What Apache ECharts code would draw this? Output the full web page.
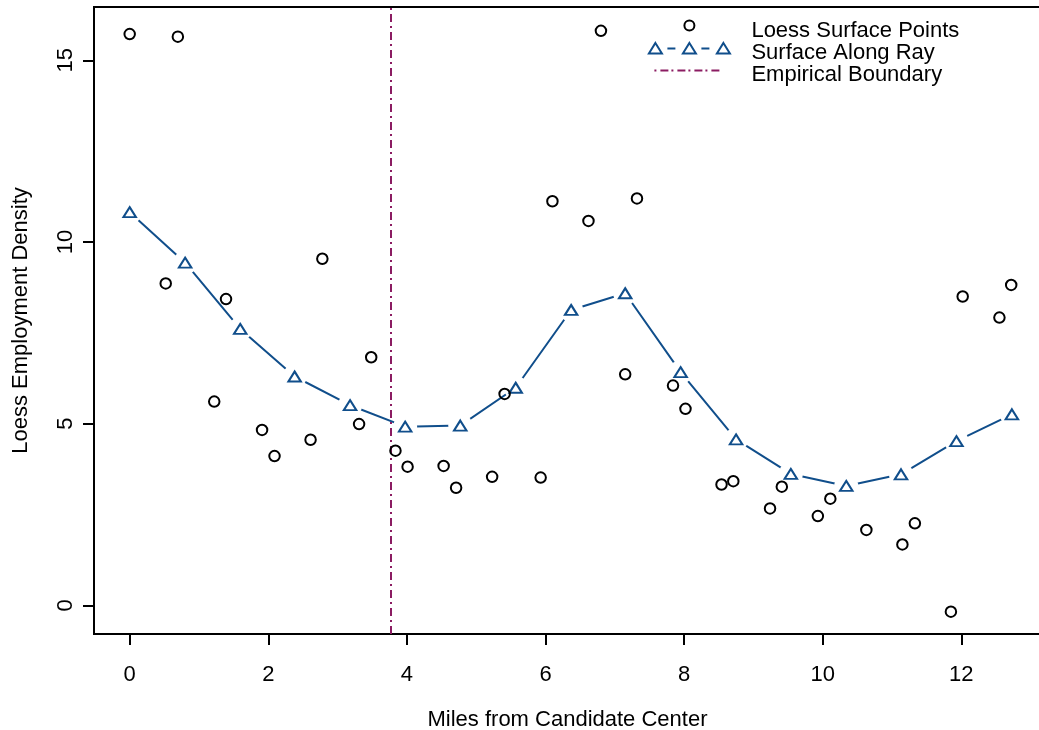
<!DOCTYPE html>
<html>
<head>
<meta charset="utf-8">
<script src="https://cdn.jsdelivr.net/npm/echarts@6/dist/echarts.min.js"></script>
<style>
  html, body { margin: 0; padding: 0; background: #fff; }
  #chart { width: 1039px; height: 730px; }
</style>
</head>
<body>
<div id="chart"></div>
<script>
// ---- Data ----
const pointsX = [0.00, 0.52, 0.695, 1.22, 1.39, 1.91, 2.09, 2.61, 2.78, 3.31, 3.485, 3.835, 4.01, 4.53, 4.71, 5.23, 5.41, 5.93, 6.10, 6.62, 6.80, 7.15, 7.32, 7.84, 8.02, 8.54, 8.71, 9.24, 9.41, 9.93, 10.11, 10.63, 11.15, 11.33, 11.85, 12.02, 12.55, 12.72];
const pointsY = [15.72, 8.86, 15.65, 5.61, 8.43, 4.83, 4.11, 4.56, 9.54, 4.99, 6.83, 4.26, 3.82, 3.84, 3.24, 3.54, 5.82, 3.52, 11.12, 10.58, 15.81, 6.36, 11.20, 6.05, 5.41, 3.33, 3.42, 2.67, 3.27, 2.46, 2.94, 2.08, 1.68, 2.26, -0.17, 8.50, 7.92, 8.82];

const rayX = [0.00, 0.80, 1.595, 2.38, 3.18, 3.975, 4.77, 5.57, 6.37, 7.15, 7.95, 8.75, 9.54, 10.34, 11.13, 11.93, 12.73];
const rayY = [10.82, 9.43, 7.61, 6.30, 5.51, 4.92, 4.95, 5.99, 8.13, 8.59, 6.42, 4.57, 3.62, 3.29, 3.61, 4.52, 5.26];

const boundaryX = [3.77];

const xTicks = [0, 2, 4, 6, 8, 10, 12];
const yTicks = [0, 5, 10, 15];

const seriesNames = ['Loess Surface Points', 'Surface Along Ray', 'Empirical Boundary'];
const xTitle = 'Miles from Candidate Center';
const yTitle = 'Loess Employment Density';

// ---- Build ----
const pts = pointsX.map((x, i) => [x, pointsY[i]]);
const ray = rayX.map((x, i) => [x, rayY[i]]);

const BLUE = '#104E8B';
const MAROON = '#8B1C62';
const FONT = "'Liberation Sans', Arial, Helvetica, sans-serif";
const FS = 22;

const anchor = 'M0 -6M98 14.6';
const iconCircle = 'path://' + anchor + 'M46 -1A5 5 0 1 1 36 -1A5 5 0 1 1 46 -1Z';
const iconRay = 'path://' + anchor +
  'M7 -5.5L13.5 5L0.5 5Z' +
  'M41 -5.5L47.5 5L34.5 5Z' +
  'M75 -5.5L81.5 5L68.5 5Z' +
  'M19 0L27 0M53 0L61 0';
const iconBoundary = 'path://' + anchor +
  'M6 0L8 0M12 0L20 0M23 0L25 0M29 0L37 0M40 0L42 0M46 0L54 0M57 0L59 0M63 0L71 0';

const chart = echarts.init(document.getElementById('chart'), null, { renderer: 'canvas' });

chart.setOption({
  animation: false,
  backgroundColor: '#fff',
  textStyle: { fontFamily: FONT, color: '#000' },
  grid: {
    left: 94, top: 7, right: -2, bottom: 96,
    show: true, borderColor: '#000', borderWidth: 2, backgroundColor: 'transparent',
    containLabel: false, outerBoundsMode: 'none'
  },
  legend: {
    orient: 'vertical',
    left: 645.9, top: 18,
    padding: 0,
    itemGap: -3.65,
    itemWidth: 98, itemHeight: 20.6,
    selectedMode: false,
    textStyle: { fontFamily: FONT, fontSize: FS, color: '#000', lineHeight: 22.35 },
    data: [
      { name: seriesNames[0], icon: iconCircle, itemStyle: { color: 'none', borderColor: '#000', borderWidth: 2, opacity: 1 } },
      { name: seriesNames[1], icon: iconRay, itemStyle: { color: 'none', borderColor: BLUE, borderWidth: 2, opacity: 1 } },
      { name: seriesNames[2], icon: iconBoundary, itemStyle: { color: 'none', borderColor: MAROON, borderWidth: 2, opacity: 1 } }
    ]
  },
  xAxis: {
    type: 'value',
    min: -0.515, max: 13.15,
    name: xTitle,
    nameLocation: 'middle',
    nameGap: 75,
    nameTextStyle: { fontFamily: FONT, fontSize: FS, color: '#000' },
    axisLine: { show: false, onZero: false },
    axisTick: { show: true, customValues: xTicks, length: 11, lineStyle: { color: '#000', width: 2 } },
    axisLabel: { show: true, customValues: xTicks, fontFamily: FONT, fontSize: FS, color: '#000', margin: 30 },
    splitLine: { show: false }
  },
  yAxis: {
    type: 'value',
    min: -0.784, max: 16.465,
    name: yTitle,
    nameLocation: 'middle',
    nameGap: 62,
    nameRotate: 90,
    nameTextStyle: { fontFamily: FONT, fontSize: FS, color: '#000' },
    axisLine: { show: false, onZero: false },
    axisTick: { show: true, customValues: yTicks, length: 11, lineStyle: { color: '#000', width: 2 } },
    axisLabel: { show: true, customValues: yTicks, rotate: 90, fontFamily: FONT, fontSize: FS, color: '#000', margin: 17.5 },
    splitLine: { show: false }
  },
  series: [
    {
      name: seriesNames[1],
      type: 'line',
      data: ray,
      symbol: 'none',
      lineStyle: { color: BLUE, width: 2 },
      itemStyle: { color: BLUE },
      z: 2,
      silent: true
    },
    {
      name: '__gap',
      type: 'scatter',
      data: ray,
      symbol: 'circle',
      symbolSize: 24,
      itemStyle: { color: '#fff', borderWidth: 0, opacity: 1 },
      z: 3,
      silent: true
    },
    {
      name: seriesNames[1],
      type: 'scatter',
      data: ray,
      symbol: 'triangle',
      symbolSize: [12.5, 10],
      itemStyle: { color: 'none', borderColor: BLUE, borderWidth: 2, opacity: 1 },
      z: 4,
      silent: true
    },
    {
      name: seriesNames[0],
      type: 'scatter',
      data: pts,
      symbol: 'circle',
      symbolSize: 10.5,
      itemStyle: { color: 'none', borderColor: '#000', borderWidth: 2, opacity: 1 },
      z: 5,
      silent: true
    },
    {
      name: seriesNames[2],
      type: 'line',
      data: [],
      itemStyle: { color: MAROON },
      z: 6,
      markLine: {
        silent: true,
        symbol: ['none', 'none'],
        label: { show: false },
        lineStyle: { color: MAROON, width: 2, type: [8, 4, 2, 4], opacity: 1 },
        emphasis: { disabled: true },
        data: boundaryX.map(v => ({ xAxis: v }))
      }
    }
  ]
});
</script>
</body>
</html>
